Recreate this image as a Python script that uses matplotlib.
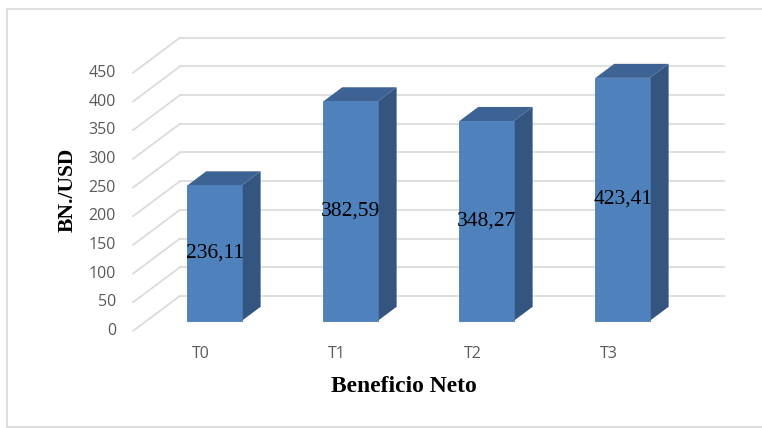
import numpy as np
import matplotlib.pyplot as plt
from matplotlib.lines import Line2D
from matplotlib.patches import Polygon

categorias = ['T0', 'T1', 'T2', 'T3']
valores = [236.11, 382.59, 348.27, 423.41]
etiquetas = ['236,11', '382,59', '348,27', '423,41']
ticks_y = list(range(0, 451, 50))

# profundidad del efecto 3D (unidades de categoria / unidades de valor)
dx, dy = 0.3456, 61.2
f1, f2 = 0.29, 0.69   # cara frontal y trasera de las barras
ancho = 0.4

c_frente = '#4f81bd'
c_lado = '#34557f'
c_techo = '#3d6394'
c_grid = '#d9d9d9'

fig = plt.figure(figsize=(7.62, 4.28), dpi=100)
ax = fig.add_axes([133 / 762, 1 - 331 / 428, (724 - 133) / 762, (331 - 37.7) / 428])
ax.set_xlim(-0.5, 3.5 + dx)
ax.set_ylim(0, 450 + dy)
ax.axis('off')

# marco exterior (el borde derecho queda fuera de la imagen)
xl, yt, yb = 6.5 / 762, 1 - 9.3 / 428, 1 - 426.8 / 428
for xs, ys in [([xl, xl], [yb, yt]), ([xl, 1], [yt, yt]), ([xl, 1], [yb, yb])]:
    fig.add_artist(Line2D(xs, ys, transform=fig.transFigure, color='#d9d9d9', lw=1.2))

# lineas de cuadricula: diagonales + pared del fondo
for v in ticks_y:
    ax.plot([-0.5, -0.5 + dx], [v, v + dy], color=c_grid, lw=1.2, zorder=1, clip_on=False)
    ax.plot([-0.5 + dx, 3.5 + dx], [v + dy, v + dy], color=c_grid, lw=1.2, zorder=1, clip_on=False)
    ax.text(-0.625, v, str(v), ha='right', va='center', fontsize=11.5,
            family='Open Sans', color='#595959')

# barras 3D
for i, (v, lab) in enumerate(zip(valores, etiquetas)):
    x0 = i - ancho / 2 + f1 * dx
    x1 = x0 + ancho
    y0 = f1 * dy
    y1 = y0 + v
    ddx = (f2 - f1) * dx
    ddy = (f2 - f1) * dy
    lado = Polygon([[x1, y0], [x1 + ddx, y0 + ddy], [x1 + ddx, y1 + ddy], [x1, y1]],
                   closed=True, facecolor=c_lado, edgecolor='none', zorder=3)
    techo = Polygon([[x0, y1], [x0 + ddx, y1 + ddy], [x1 + ddx, y1 + ddy], [x1, y1]],
                    closed=True, facecolor=c_techo, edgecolor='none', zorder=3)
    ax.add_patch(lado)
    ax.add_patch(techo)
    ax.bar(x0, v, width=ancho, bottom=y0, align='edge', color=c_frente,
           edgecolor='#4a79b2', linewidth=0.6, zorder=4)
    ax.text((x0 + x1) / 2, y0 + v / 2, lab, ha='center', va='center',
            fontsize=15.5, family='Liberation Serif', color='black', zorder=5)
    ax.text(i, -40, categorias[i], ha='center', va='center', fontsize=11.5,
            family='Open Sans', color='#595959')

fig.text(404 / 762, 1 - 386 / 428, 'Beneficio Neto', ha='center', va='center',
         fontsize=17, fontweight='bold', family='Liberation Serif')
fig.text(67.5 / 762, 1 - 190 / 428, 'BN./USD', ha='center', va='center', rotation=90,
         fontsize=15.5, fontweight='bold', family='Liberation Serif')

fig.savefig('out.png', dpi=100)
